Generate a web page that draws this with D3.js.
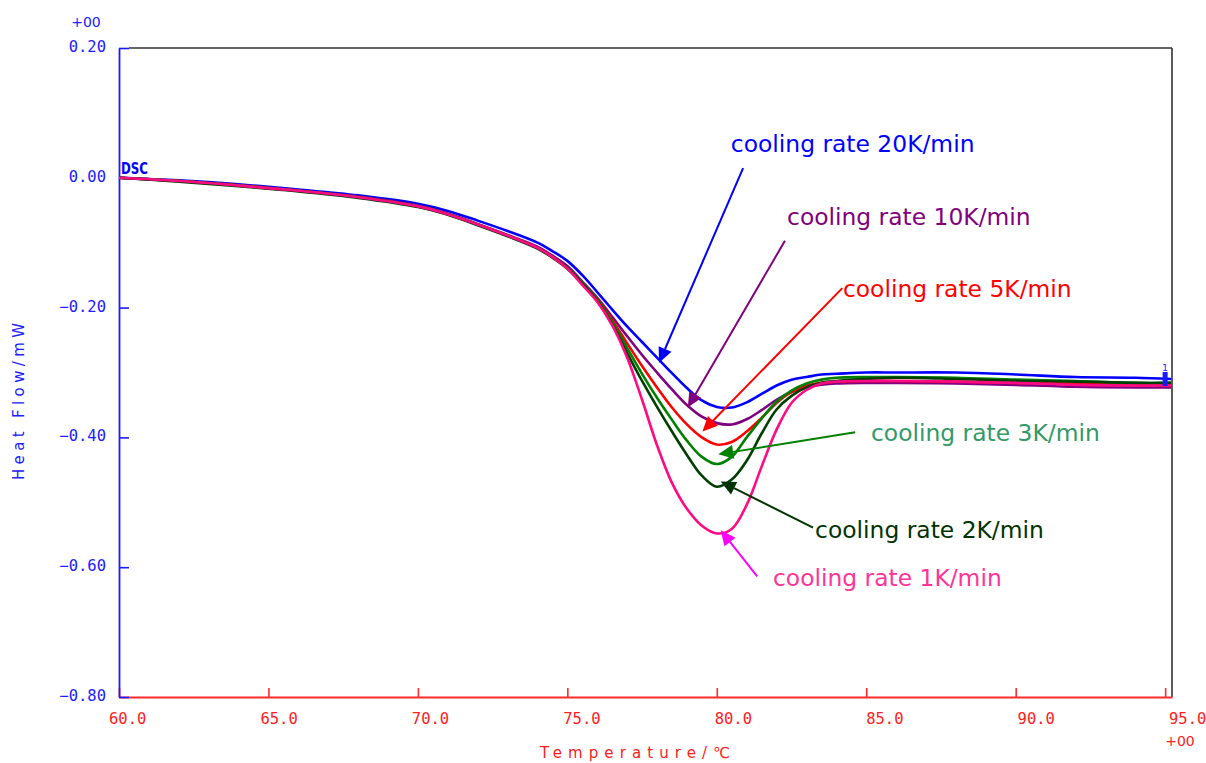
<!DOCTYPE html>
<html>
<head>
<meta charset="utf-8">
<script src="https://cdn.jsdelivr.net/npm/d3@7"></script>
<style>
  html, body { margin: 0; padding: 0; background: #ffffff; }
  svg { display: block; }
</style>
</head>
<body>
<svg id="chart" width="1206" height="763"></svg>
<script>
// ---------------- data ----------------
const temps = [60, 62, 64, 66, 68, 70, 71, 72, 73, 74, 74.5, 75, 75.5, 76, 76.5, 77, 77.5, 78, 78.5, 79, 79.5, 80, 80.5, 81, 81.5, 82, 82.5, 83, 83.5, 84, 85, 86, 88, 90, 92, 94, 95.2];

const rate20 = [0.000, -0.004, -0.010, -0.018, -0.027, -0.040, -0.051, -0.066, -0.082, -0.100, -0.113, -0.128, -0.150, -0.176, -0.203, -0.229, -0.253, -0.277, -0.301, -0.324, -0.343, -0.353, -0.354, -0.346, -0.333, -0.320, -0.311, -0.307, -0.303, -0.302, -0.300, -0.300, -0.300, -0.303, -0.307, -0.308, -0.310];
const rate10 = [0.000, -0.005, -0.011, -0.020, -0.029, -0.043, -0.055, -0.071, -0.088, -0.106, -0.120, -0.136, -0.160, -0.185, -0.214, -0.244, -0.273, -0.300, -0.326, -0.350, -0.368, -0.378, -0.380, -0.372, -0.358, -0.342, -0.330, -0.323, -0.319, -0.317, -0.316, -0.316, -0.317, -0.319, -0.322, -0.323, -0.323];
const rate5  = [0.000, -0.005, -0.012, -0.020, -0.030, -0.044, -0.056, -0.072, -0.089, -0.108, -0.122, -0.139, -0.162, -0.187, -0.219, -0.255, -0.290, -0.323, -0.354, -0.380, -0.400, -0.411, -0.407, -0.391, -0.370, -0.347, -0.330, -0.320, -0.316, -0.314, -0.313, -0.313, -0.314, -0.316, -0.317, -0.319, -0.319];
const rate3  = [0.000, -0.005, -0.012, -0.020, -0.030, -0.044, -0.056, -0.072, -0.089, -0.108, -0.122, -0.139, -0.162, -0.188, -0.222, -0.262, -0.302, -0.339, -0.373, -0.405, -0.430, -0.441, -0.430, -0.400, -0.371, -0.345, -0.328, -0.317, -0.311, -0.308, -0.307, -0.307, -0.308, -0.311, -0.313, -0.316, -0.316];
const rate2  = [0.000, -0.006, -0.013, -0.021, -0.031, -0.045, -0.057, -0.073, -0.090, -0.109, -0.123, -0.140, -0.163, -0.190, -0.226, -0.270, -0.313, -0.353, -0.391, -0.427, -0.459, -0.476, -0.465, -0.436, -0.394, -0.357, -0.336, -0.323, -0.316, -0.313, -0.310, -0.308, -0.310, -0.313, -0.314, -0.316, -0.316];
const rate1  = [0.000, -0.005, -0.012, -0.020, -0.030, -0.044, -0.056, -0.072, -0.089, -0.108, -0.122, -0.140, -0.165, -0.191, -0.227, -0.277, -0.342, -0.412, -0.470, -0.510, -0.536, -0.548, -0.541, -0.504, -0.445, -0.388, -0.347, -0.327, -0.317, -0.314, -0.313, -0.313, -0.314, -0.316, -0.319, -0.320, -0.320];

const seriesNames  = ["20K", "10K", "5K", "3K", "2K", "1K"];
const seriesValues = [rate20, rate10, rate5, rate3, rate2, rate1];
const seriesColors = ["#0000ff", "#800080", "#ff0000", "#008000", "#003f00", "#ff0a84"];

const xTicks = [60, 65, 70, 75, 80, 85, 90, 95];
const xTickLabels = ["60.0", "65.0", "70.0", "75.0", "80.0", "85.0", "90.0", "95.0"];
const yTicks = [0.2, 0.0, -0.2, -0.4, -0.6, -0.8];
const yTickLabels = ["0.20", "0.00", "\u22120.20", "\u22120.40", "\u22120.60", "\u22120.80"];

// annotations: label, label anchor (T, v), arrow tail (T, v), arrow tip (T, v)
const annLabels   = ["cooling rate 20K/min", "cooling rate 10K/min", "cooling rate 5K/min", "cooling rate 3K/min", "cooling rate 2K/min", "cooling rate 1K/min"];
const annTextPos  = [[80.47, 0.040], [82.35, -0.072], [84.22, -0.183], [85.16, -0.406], [83.29, -0.555], [81.88, -0.629]];
const annTail     = [[80.88, 0.015], [82.28, -0.097], [84.20, -0.170], [84.63, -0.392], [83.22, -0.539], [81.35, -0.614]];
const annTip      = [[78.07, -0.285], [79.03, -0.354], [79.52, -0.391], [80.05, -0.426], [80.13, -0.468], [80.13, -0.543]];
const annTextColors  = ["#0000ff", "#800080", "#ff0000", "#339966", "#003300", "#ff3399"];
const annArrowColors = ["#0000ff", "#800080", "#ff0000", "#008000", "#003300", "#ff00ff"];

// ---------------- drawing ----------------
const svg = d3.select("#chart");

const x = d3.scaleLinear().domain([60, 95.23]).range([119, 1172]);
const y = d3.scaleLinear().domain([-0.8, 0.2]).range([697, 48]);
// tick labels in the original are spaced slightly differently from the tick marks
const xLabel = d3.scaleLinear().domain([60, 95]).range([109, 1169]);

const monoFont = "'DejaVu Sans Mono', 'Liberation Mono', monospace";

// frame: top and right border
svg.append("line")
  .attr("x1", x(60) + 10).attr("x2", x(95.23))
  .attr("y1", y(0.2)).attr("y2", y(0.2))
  .attr("stroke", "#333333").attr("stroke-width", 1.6);
svg.append("line")
  .attr("x1", x(95.23)).attr("x2", x(95.23))
  .attr("y1", y(0.2)).attr("y2", y(-0.8))
  .attr("stroke", "#333333").attr("stroke-width", 1.6);

// x axis (red)
const xAxis = d3.axisBottom(x)
  .tickValues(xTicks)
  .tickSizeInner(-9)
  .tickSizeOuter(0)
  .tickFormat("");
const gx = svg.append("g").attr("transform", `translate(0,${y(-0.8)})`).call(xAxis);
gx.select(".domain").attr("stroke", "#ff2a2a").attr("stroke-width", 1.8);
gx.selectAll(".tick line").attr("stroke", "#ff2a2a").attr("stroke-width", 1.6);

svg.append("g").selectAll("text")
  .data(xTicks)
  .join("text")
  .attr("x", d => xLabel(d))
  .attr("y", y(-0.8) + 27)
  .attr("font-family", monoFont)
  .attr("font-size", 15.5)
  .attr("fill", "#ff2020")
  .text((d, i) => xTickLabels[i]);

// y axis (blue)
const yAxis = d3.axisLeft(y)
  .tickValues(yTicks)
  .tickSizeInner(-10)
  .tickSizeOuter(0)
  .tickPadding(13)
  .tickFormat((d, i) => yTickLabels[i]);
const gy = svg.append("g").attr("transform", `translate(${x(60)},0)`).call(yAxis);
gy.select(".domain").attr("stroke", "#1a1aff").attr("stroke-width", 1.8);
gy.selectAll(".tick line").attr("stroke", "#1a1aff").attr("stroke-width", 1.6);
gy.selectAll(".tick text")
  .attr("font-family", monoFont)
  .attr("font-size", 15.5)
  .attr("fill", "#2020ff")
  .attr("dy", "0.22em");

// exponent labels
svg.append("text")
  .attr("x", 86).attr("y", 27)
  .attr("text-anchor", "middle")
  .attr("font-family", "'DejaVu Sans', sans-serif")
  .attr("font-size", 14)
  .attr("fill", "#2020ff")
  .text("+00");
svg.append("text")
  .attr("x", 1180).attr("y", 746)
  .attr("text-anchor", "middle")
  .attr("font-family", "'DejaVu Sans', sans-serif")
  .attr("font-size", 14)
  .attr("fill", "#ff2020")
  .text("+00");

// axis titles
svg.append("text")
  .attr("x", 540).attr("y", 758)
  .attr("textLength", 190)
  .attr("lengthAdjust", "spacing")
  .attr("font-family", "'DejaVu Sans', 'Noto Sans CJK JP', sans-serif")
  .attr("font-size", 15)
  .attr("fill", "#ff2020")
  .text("Temperature/\u2103");

svg.append("text")
  .attr("transform", "translate(24,480) rotate(-90)")
  .attr("x", 0).attr("y", 0)
  .attr("textLength", 157)
  .attr("lengthAdjust", "spacing")
  .attr("font-family", "'DejaVu Sans', sans-serif")
  .attr("font-size", 15)
  .attr("fill", "#2020ff")
  .text("Heat Flow/mW");

// DSC label
svg.append("text")
  .attr("x", 121).attr("y", 174)
  .attr("textLength", 27)
  .attr("lengthAdjust", "spacingAndGlyphs")
  .attr("font-family", "'DejaVu Sans Condensed', 'DejaVu Sans', sans-serif")
  .attr("font-weight", "bold")
  .attr("font-size", 15)
  .attr("fill", "#0000ff")
  .text("DSC");

// curves
const line = d3.line()
  .x(d => x(d[0]))
  .y(d => y(d[1]))
  .curve(d3.curveCatmullRom.alpha(0.5));

svg.append("g").selectAll("path")
  .data(seriesValues)
  .join("path")
  .attr("d", vals => line(temps.map((t, i) => [t, vals[i]])))
  .attr("fill", "none")
  .attr("stroke", (d, i) => seriesColors[i])
  .attr("stroke-width", 2.6)
  .attr("stroke-linejoin", "round");

// end marker (blue) at the right end
svg.append("rect")
  .attr("x", x(95) - 2.5).attr("y", y(-0.31) - 7)
  .attr("width", 5).attr("height", 14)
  .attr("fill", "#1a1aff");
svg.append("text")
  .attr("x", x(95)).attr("y", y(-0.31) - 8)
  .attr("text-anchor", "middle")
  .attr("font-family", "'DejaVu Sans', sans-serif")
  .attr("font-size", 9)
  .attr("fill", "#1a1aff")
  .text("1");

// annotations
const ann = svg.append("g");
annLabels.forEach((label, i) => {
  const [tx, ty] = [x(annTail[i][0]), y(annTail[i][1])];
  const [px, py] = [x(annTip[i][0]), y(annTip[i][1])];
  const ang = Math.atan2(py - ty, px - tx);
  const L = 15, W = 7;
  const bx = px - L * Math.cos(ang), by = py - L * Math.sin(ang);
  ann.append("line")
    .attr("x1", tx).attr("y1", ty)
    .attr("x2", bx).attr("y2", by)
    .attr("stroke", annArrowColors[i])
    .attr("stroke-width", 2);
  const nx = -Math.sin(ang), ny = Math.cos(ang);
  ann.append("path")
    .attr("d", `M${px},${py}L${bx + W * nx},${by + W * ny}L${bx - W * nx},${by - W * ny}Z`)
    .attr("fill", annArrowColors[i]);
  ann.append("text")
    .attr("x", x(annTextPos[i][0]))
    .attr("y", y(annTextPos[i][1]))
    .attr("font-family", "'DejaVu Sans', Verdana, sans-serif")
    .attr("font-size", 23.4)
    .attr("fill", annTextColors[i])
    .text(label);
});
</script>
</body>
</html>
